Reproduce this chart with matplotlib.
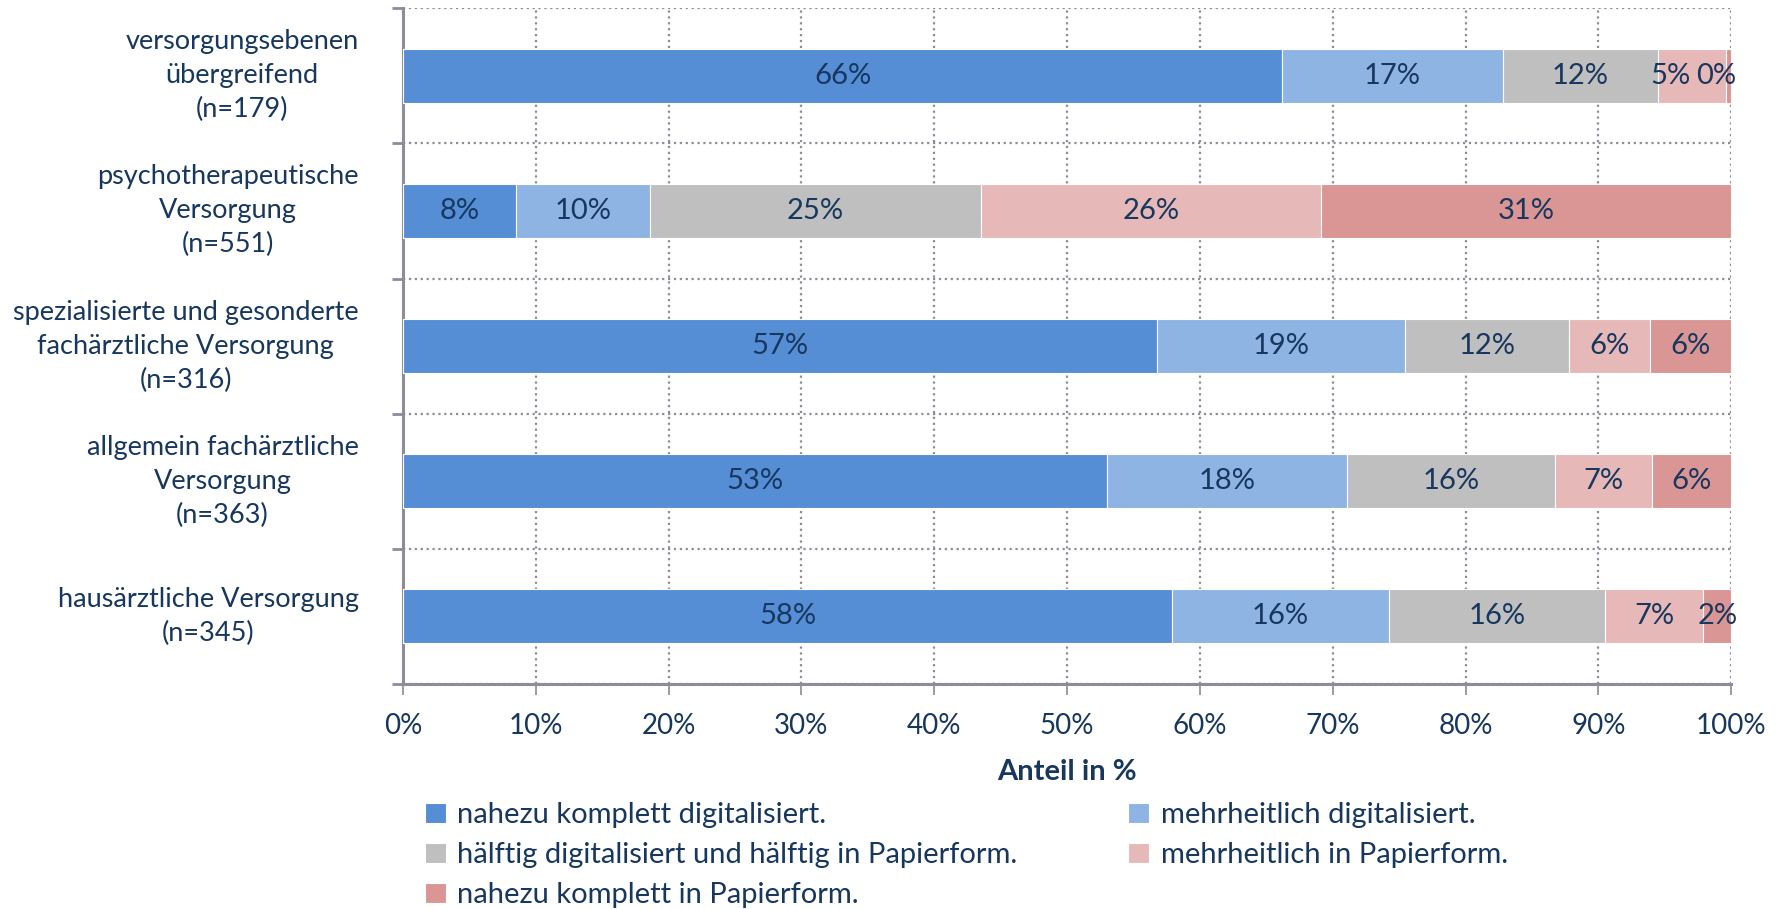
import numpy as np
import matplotlib.pyplot as plt

plt.rcParams['font.family'] = ['Lato', 'DejaVu Sans']

# ========= Data ===========
categories = [
    "versorgungsebenen\nübergreifend\n(n=179)",
    "psychotherapeutische\nVersorgung\n(n=551)",
    "spezialisierte und gesonderte\nfachärztliche Versorgung\n(n=316)",
    "allgemein fachärztliche\nVersorgung\n(n=363)",
    "hausärztliche Versorgung\n(n=345)",
]
series_names = [
    "nahezu komplett digitalisiert.",
    "mehrheitlich digitalisiert.",
    "hälftig digitalisiert und hälftig in Papierform.",
    "mehrheitlich in Papierform.",
    "nahezu komplett in Papierform.",
]
komplett_digital = [66.2, 8.5, 56.8, 53.0, 57.9]
mehrheitlich_digital = [16.6, 10.1, 18.6, 18.1, 16.3]
haelftig = [11.7, 24.9, 12.4, 15.6, 16.3]
mehrheitlich_papier = [5.1, 25.6, 6.1, 7.3, 7.4]
komplett_papier = [0.4, 30.9, 6.1, 6.0, 2.1]
xtick_labels = ["0%", "10%", "20%", "30%", "40%", "50%", "60%", "70%", "80%", "90%", "100%"]

colors = ["#558ED5", "#8EB4E3", "#BFBFBF", "#E6B9B8", "#D99694"]
text_col = "#17375E"
axis_col = "#8C8C9A"

series = [komplett_digital, mehrheitlich_digital, haelftig, mehrheitlich_papier, komplett_papier]

fig = plt.figure(figsize=(17.83, 9.09), dpi=100)
ax = fig.add_axes([0.226, 0.2475, 0.745, 0.7435])

ypos = np.arange(len(categories))[::-1]
left = np.zeros(len(categories))
handles = []
for k, (name, vals, c) in enumerate(zip(series_names, series, colors)):
    vals = np.array(vals)
    bars = ax.barh(ypos, vals, left=left, height=0.4, color=c, edgecolor='white',
                   linewidth=0.8, label=name, zorder=3)
    handles.append(bars)
    for i, (y, l, v) in enumerate(zip(ypos, left, vals)):
        x = l + v / 2
        # labels crowd near a tiny end segment: shift them left as the original does
        if v < 1:
            x -= 0.9
        elif k + 1 < len(series) and series[k + 1][i] < 1:
            x -= 1.6
        ax.text(x, y, f"{round(v)}%", ha='center', va='center',
                fontsize=21, color=text_col, zorder=4)
    left += vals

ax.set_xlim(0, 100)
ax.set_ylim(-0.5, len(categories) - 0.5)
ax.set_xticks(np.arange(0, 101, 10))
ax.set_xticklabels(xtick_labels)
ax.set_yticks(ypos)
ax.set_yticklabels(categories, multialignment='center', linespacing=1.45)
for t in ax.get_yticklabels():
    t.set_va('center')
ax.set_yticks(np.arange(-0.5, len(categories)), minor=True)

ax.tick_params(axis='y', which='major', length=0, pad=32, labelsize=19.5, labelcolor=text_col)
ax.tick_params(axis='y', which='minor', length=8, width=2, color=axis_col)
ax.tick_params(axis='x', which='major', length=8, width=1.2, color=axis_col, pad=13,
               labelsize=20, labelcolor=text_col)

ax.grid(axis='x', which='major', linestyle=':', color=axis_col, linewidth=1.6, zorder=0)
ax.grid(axis='y', which='minor', linestyle=':', color=axis_col, linewidth=1.6, zorder=0)

for s in ['top', 'right']:
    ax.spines[s].set_visible(False)
for s in ['left', 'bottom']:
    ax.spines[s].set_color(axis_col)
    ax.spines[s].set_linewidth(2.2)

ax.set_xlabel("Anteil in %", fontsize=21, fontweight='bold', color=text_col, labelpad=14)

order = [0, 2, 4, 1, 3]
fig.legend([handles[i] for i in order], [series_names[i] for i in order],
           ncol=2, loc='upper left', bbox_to_anchor=(0.232, 0.13), frameon=False,
           fontsize=21, labelcolor=text_col, handlelength=0.7, handleheight=0.7,
           handletextpad=0.4, columnspacing=3.8, labelspacing=0.48, borderaxespad=0)

fig.savefig("out.png", dpi=100)
